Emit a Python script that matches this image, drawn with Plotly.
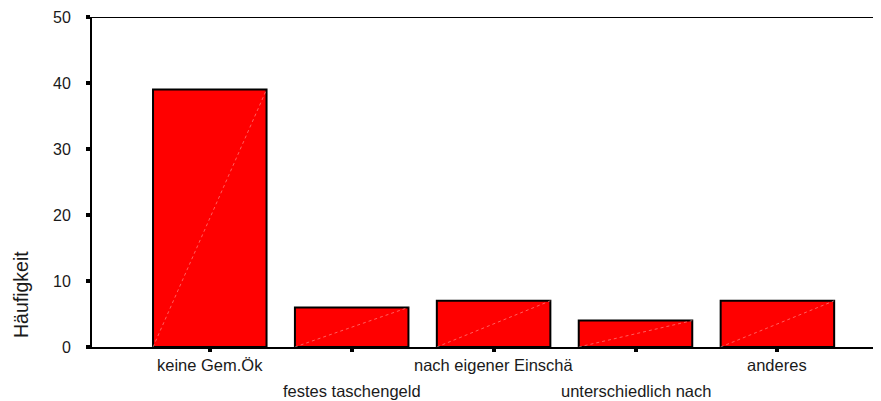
import plotly.graph_objects as go

# Kategorien und Häufigkeiten
kategorien = ["keine Gem.Ök", "festes taschengeld", "nach eigener Einschä",
              "unterschiedlich nach", "anderes"]
haeufigkeit = [39, 6, 7, 4, 7]
y_ticks = [0, 10, 20, 30, 40, 50]

BAR_W = 0.8
FONT = "Liberation Sans, Arial, sans-serif"

# die Seite hat 8px Rand -> Figur etwas kleiner
W, H = 873, 393
ML, MT, MB = 84, 9, 54

fig = go.Figure()

fig.add_trace(go.Bar(
    x=list(range(len(kategorien))),
    y=haeufigkeit,
    width=BAR_W,
    marker=dict(color="#ff0000", line=dict(color="black", width=2)),
    hoverinfo="skip",
))

# diagonale Linie in jedem Balken (SPSS-Stil)
for i, v in enumerate(haeufigkeit):
    fig.add_trace(go.Scatter(
        x=[i - BAR_W / 2, i + BAR_W / 2],
        y=[0, v],
        mode="lines",
        line=dict(color="rgba(255,170,170,0.8)", width=0.7, dash="dot"),
        hoverinfo="skip",
    ))

# Kategorien-Beschriftung, versetzt
for i, name in enumerate(kategorien):
    fig.add_annotation(
        x=i, y=0, xref="x", yref="paper",
        text=name, showarrow=False,
        yanchor="middle", xanchor="center",
        yshift=-18 if i % 2 == 0 else -44,
        font=dict(size=16.5, color="#1a1a1a", family=FONT),
    )

# Achsentitel, liegt im unteren Teil wie im Original
plot_w = W - ML
plot_h = H - MT - MB
fig.add_annotation(
    x=(13 - ML) / plot_w, y=(H - MB - 287) / plot_h,
    xref="paper", yref="paper", text="Häufigkeit",
    showarrow=False, textangle=-90, xanchor="center", yanchor="middle",
    font=dict(size=19.5, color="#1a1a1a", family=FONT),
)

# obere Rahmenlinie
fig.add_shape(type="line", xref="paper", yref="y", x0=0, x1=1, y0=50, y1=50,
              line=dict(color="black", width=2))

fig.update_layout(
    width=W, height=H,
    margin=dict(l=ML, r=0, t=MT, b=MB),
    paper_bgcolor="white", plot_bgcolor="white",
    showlegend=False,
    font=dict(family=FONT, size=16, color="#1a1a1a"),
)
fig.update_xaxes(
    range=[-0.83, 4.73], tickvals=list(range(len(kategorien))),
    showticklabels=False, showgrid=False, zeroline=False,
    showline=True, linecolor="black", linewidth=2,
    ticks="outside", ticklen=3, tickwidth=4, tickcolor="black",
)
fig.update_yaxes(
    range=[0, 50], tickvals=y_ticks, showgrid=False, zeroline=False,
    showline=True, linecolor="black", linewidth=2,
    ticks="outside", ticklen=4, tickwidth=4, tickcolor="black",
    ticklabelstandoff=12, tickfont=dict(size=16, color="#1a1a1a"),
)

fig.write_html("out.html")
